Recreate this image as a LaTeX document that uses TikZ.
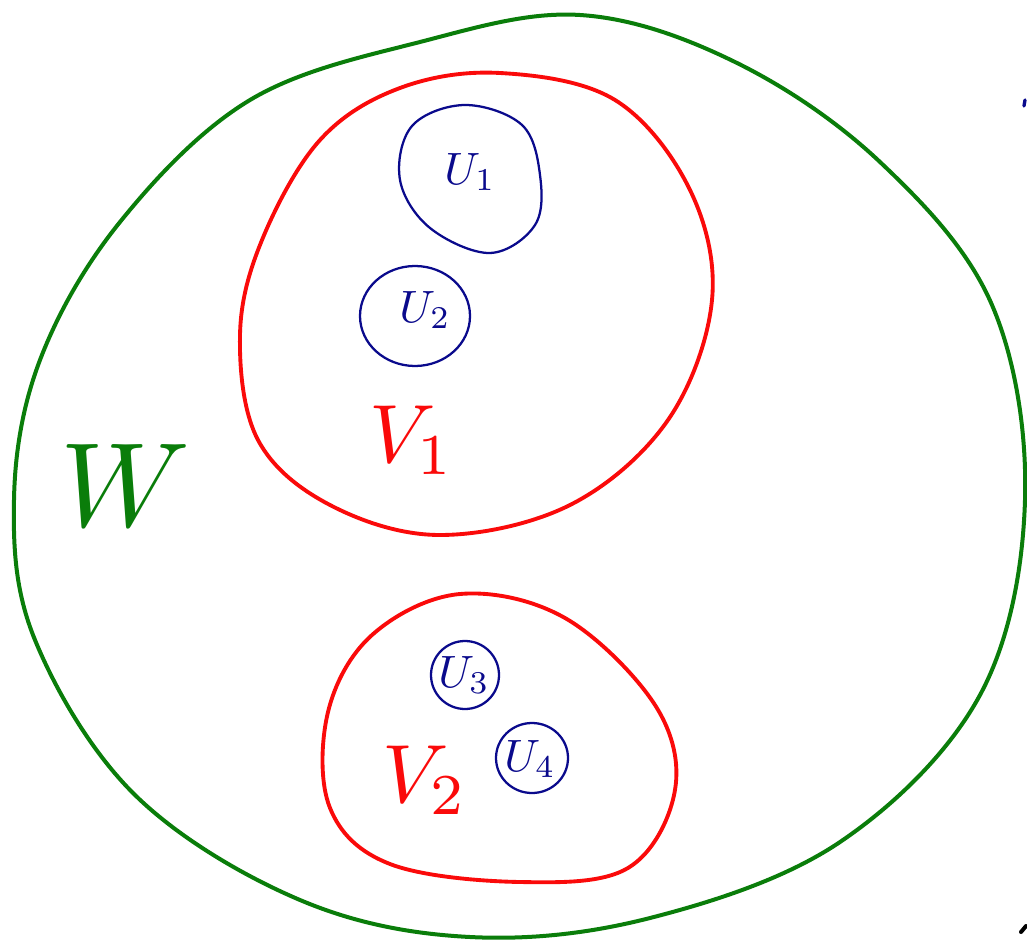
\documentclass[tikz,border=0pt]{standalone}
\begin{document}
\begin{tikzpicture}[x=0.75pt,y=-0.75pt,
  greenline/.style={draw=wgreen,line width=3pt,line cap=round,line join=round},
  redline/.style={draw=vred,line width=2.9pt,line cap=round,line join=round},
  blueline/.style={draw=ublue,line width=1.7pt,line cap=round,line join=round},
  ulabel/.style={text=ublue,scale=3.4},
  vlabel/.style={text=vred,scale=6.2},
  wlabel/.style={text=wgreen,scale=9}]
\definecolor{wgreen}{RGB}{10,125,10}
\definecolor{vred}{RGB}{250,10,10}
\definecolor{ublue}{RGB}{10,10,140}
\useasboundingbox (0,0) rectangle (1027,941);
% W
\draw[greenline] plot[smooth cycle,tension=0.6] coordinates {
 (580,15) (420,42) (250,100) (120,222) (40,360) (14,500) (35,640)
 (135,795) (300,900) (470,937) (650,918) (840,842) (980,695) (1025,500)
 (992,305) (880,162) (735,62)};
\node[wlabel] (W) at (125,485) {$W$};
% V1
\draw[redline] plot[smooth cycle,tension=0.6] coordinates {
 (500,73) (400,88) (320,140) (262,240) (240,335) (258,440) (330,505)
 (440,535) (570,505) (668,420) (712,300) (690,190) (615,100)};
\node[vlabel] (V1) at (412,440) {$V_1$};
% V2
\draw[redline] plot[smooth cycle,tension=0.6] coordinates {
 (460,594) (372,635) (328,712) (330,808) (390,864) (520,882) (628,868)
 (675,790) (655,705) (565,618)};
\node[vlabel] (V2) at (425,780) {$V_2$};
% U1
\draw[blueline] plot[smooth cycle,tension=0.6] coordinates {
 (465,105) (412,126) (400,180) (430,228) (490,253) (535,225) (540,175)
 (522,125)};
\node[ulabel] (U1) at (470,172) {$U_1$};
% U2
\draw[blueline] (415,316) ellipse[x radius=55,y radius=50];
\node[ulabel] (U2) at (425,310) {$U_2$};
% U3
\draw[blueline] (465,675) ellipse[x radius=34,y radius=34];
\node[ulabel] (U3) at (464,675) {$U_3$};
% U4
\draw[blueline] (532,758) ellipse[x radius=36,y radius=35];
\node[ulabel] (U4) at (530,759) {$U_4$};
% stray marks at right edge
\draw[draw=ublue,line width=2.5pt,line cap=round] (1025,100) -- (1024,106);
\draw[draw=black,line width=3pt,line cap=round] (1021,932) -- (1026,926);
\end{tikzpicture}
\end{document}
